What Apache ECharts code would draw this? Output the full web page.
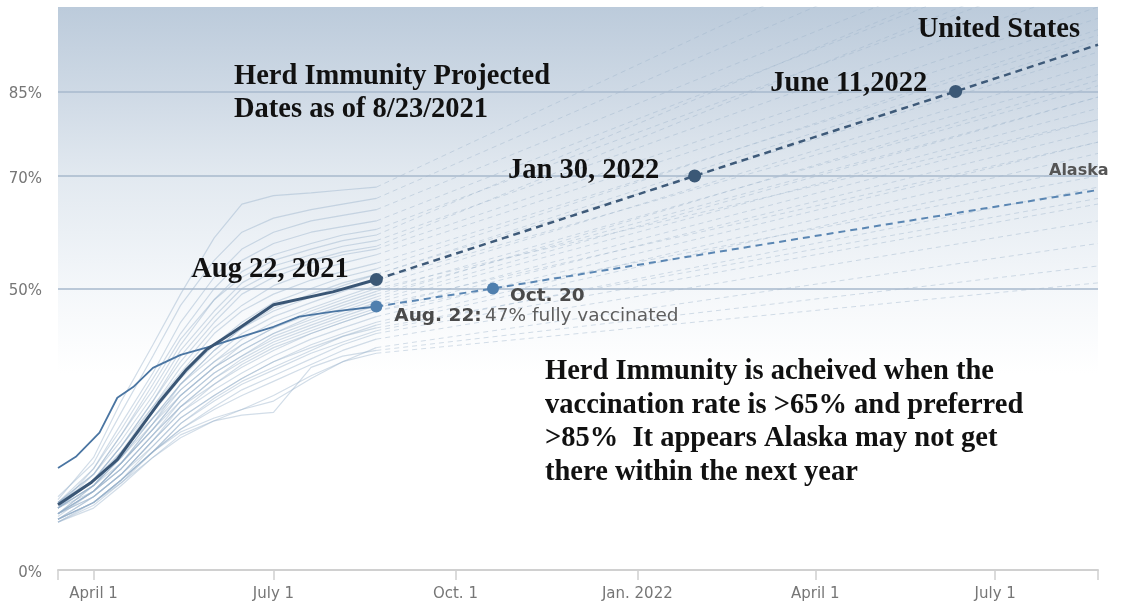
<!DOCTYPE html>
<html>
<head>
<meta charset="utf-8">
<script src="https://cdn.jsdelivr.net/npm/echarts@6/dist/echarts.min.js"></script>
<style>
html,body{margin:0;padding:0;background:#fff;}
#chart{width:1122px;height:602px;}
</style>
</head>
<body>
<div id="chart"></div>
<script>
// ---------- data ----------
const STATE_DATES = ['2021-03-14','2021-04-01','2021-04-15','2021-05-01','2021-05-15','2021-06-01','2021-06-15','2021-07-01','2021-07-20','2021-08-05','2021-08-22'];
const PROJ_END_DATE = '2022-08-22';
// each state: values at STATE_DATES (percent fully vaccinated)
const STATE_VALUES = [
  [12.5, 20, 30, 40, 49, 59, 65, 66.5, 67, 67.5, 68],
  [13, 19, 28, 38, 47, 55, 60, 62.5, 64, 65, 66],
  [11, 18, 26, 35, 44, 52, 57, 60, 62, 63, 64],
  [12, 18, 25, 34, 42, 50, 55, 58, 60, 61, 62],
  [11, 17, 24, 32, 40, 48, 53, 56, 58, 59.5, 60.5],
  [12, 17, 23, 31, 39, 46, 51, 54, 56, 57.5, 58.5],
  [11, 16, 22, 30, 37, 44, 49, 52, 54.5, 56, 57],
  [10, 15, 21, 29, 36, 43, 47, 50.5, 53, 54.5, 56],
  [12, 16, 22, 29, 35, 42, 46, 49, 51.5, 53, 54.5],
  [11, 15, 21, 28, 34, 40, 44, 47.5, 50, 52, 53.5],
  [10, 15, 20, 27, 33, 39, 43, 46, 48.5, 50.5, 52.5],
  [11, 15, 20, 27, 33, 38, 42, 45, 47.5, 49.5, 51.5],
  [12, 16, 21, 27, 32, 37, 41, 44, 46.5, 48.5, 50.5],
  [10, 14, 19, 26, 32, 37, 40, 43, 45.5, 47.5, 49.5],
  [11, 15, 20, 26, 31, 36, 39, 42, 45, 47, 49],
  [9.5, 14, 19, 25, 31, 36, 39, 42, 44.5, 46.5, 48.5],
  [10, 14, 18, 24, 30, 35, 38, 41, 43.5, 45.5, 47.5],
  [11, 14, 18, 24, 29, 34, 37, 40, 42.5, 44.5, 46.5],
  [10, 13, 17, 23, 28, 33, 36, 39, 42, 44, 46],
  [9, 13, 17, 23, 28, 32, 35, 38, 41, 43, 45],
  [10, 13, 17, 22, 27, 31, 34, 37, 40, 42, 44],
  [9, 12, 16, 22, 27, 31, 34, 37, 39.5, 41.5, 43.5],
  [9, 12, 16, 21, 26, 30, 33, 35.5, 38.5, 40.5, 42.5],
  [8.5, 12, 16, 21, 25, 29, 32, 34.5, 37.5, 40, 42],
  [9, 12, 16, 21, 25, 28.5, 31, 33.5, 36.5, 39, 41],
  [8.5, 11.5, 15.5, 21, 24.5, 27, 28.5, 30, 34, 37, 39.5],
  [8.5, 11, 15, 20, 24, 26.5, 27.5, 28, 36, 38, 39],
  [9, 12, 15.5, 20, 23.5, 26.5, 28.5, 31, 34.5, 37, 38.5],
  [11, 16, 22, 30, 38, 45, 50, 53, 55, 56.5, 57.5],
  [10, 14, 19, 26, 33, 39, 43, 46.5, 49, 51, 52.5],
  [10, 14, 19, 25, 31, 36, 40, 43, 46, 48, 50],
  [11, 15, 19, 25, 30, 35, 38, 41.5, 44, 46, 48],
  [9, 13, 17, 23, 29, 33, 36.5, 39.5, 42, 44, 46],
  [12, 17, 24, 33, 41, 48, 52, 55, 57, 58.5, 59.5],
  [10, 14, 18, 24, 29, 34, 37.5, 40.5, 43, 45, 47],
  [9, 12, 16, 21, 26, 30.5, 33.5, 36, 39, 41.5, 43]
];
// projected value on PROJ_END_DATE for each state (same order)
const STATE_PROJ = [128, 122, 116, 112, 108, 104, 100, 98, 95, 96, 92, 88, 90, 86, 84, 87, 82, 80, 78, 76, 74, 72, 68, 65, 62, 58, 54, 51, 110, 94, 80, 84, 70, 114, 76, 66];

const US_DATES = ['2021-03-14','2021-03-31','2021-04-13','2021-04-24','2021-05-04','2021-05-18','2021-05-28','2021-06-10','2021-07-01','2021-07-31','2021-08-22'];
const US_VALUES = [11.6, 15.6, 19.6, 24.9, 29.7, 35.6, 39.1, 42.1, 47.1, 49.4, 51.6];
const US_PROJ_DATES = ['2021-08-22','2022-01-30','2022-06-11','2022-08-22'];
const US_PROJ_VALUES = [51.6, 70, 85, 93.3];
const US_MARK_DATES = ['2021-08-22','2022-01-30','2022-06-11'];
const US_MARK_VALUES = [51.6, 70, 85];
const US_MARK_LABELS = ['Aug 22, 2021', 'Jan 30, 2022', 'June 11,2022'];

const AK_DATES = ['2021-03-14','2021-03-23','2021-04-04','2021-04-13','2021-04-21','2021-05-01','2021-05-15','2021-05-28','2021-06-10','2021-07-01','2021-07-14','2021-07-31','2021-08-22'];
const AK_VALUES = [18.1, 20.1, 24.4, 30.6, 32.5, 35.9, 38.2, 39.5, 40.9, 43.2, 45, 45.9, 46.8];
const AK_PROJ_DATES = ['2021-08-22','2021-10-20','2022-08-22'];
const AK_PROJ_VALUES = [46.8, 50, 67.5];
const AK_MARK_DATES = ['2021-08-22','2021-10-20'];
const AK_MARK_VALUES = [46.8, 50];
const AK_MARK_BOLD = ['Aug. 22:', 'Oct. 20'];
const AK_MARK_TEXT = ['47% fully vaccinated', ''];

const X_MIN = '2021-03-14';
const X_MAX = '2022-08-22';
const X_TICK_DATES = ['2021-04-01','2021-07-01','2021-10-01','2022-01-01','2022-04-01','2022-07-01'];
const X_TICK_LABELS = ['April 1','July 1','Oct. 1','Jan. 2022','April 1','July 1'];
const Y_TICKS = [0, 50, 70, 85];
const GRID_LINES = [50, 70, 85];

const TITLE_TEXT = 'Herd Immunity Projected\nDates as of 8/23/2021';
const NOTE_TEXT = 'Herd Immunity is acheived when the\nvaccination rate is >65% and preferred\n>85%  It appears Alaska may not get\nthere within the next year';
const US_NAME = 'United States';
const AK_NAME = 'Alaska';

// ---------- helpers ----------
const DAY = 86400000;
function t(s){ const p = s.split('-').map(Number); return Math.round(Date.UTC(p[0], p[1]-1, p[2]) / DAY); }
function pairs(dates, vals){ return dates.map((d,i)=>[t(d), vals[i]]); }

const labelMap = {};
X_TICK_DATES.forEach((d,i)=>{ labelMap[t(d)] = X_TICK_LABELS[i]; });

const SANS = '"DejaVu Sans", sans-serif';
const SERIF = '"Liberation Serif", "Times New Roman", serif';

const series = [];

// gridlines
series.push({
  type:'line', data:[[t(X_MIN), 0]], symbol:'none', lineStyle:{opacity:0}, silent:true, z:1,
  markLine:{
    silent:true, symbol:'none', animation:false,
    label:{show:false},
    lineStyle:{color:'#a7b9cd', width:1.5, type:'solid'},
    data: GRID_LINES.map(v=>({yAxis:v}))
  }
});

STATE_VALUES.forEach((vals, i)=>{
  series.push({
    type:'line', data: pairs(STATE_DATES, vals), symbol:'none', silent:true, z:2,
    lineStyle:{color:'#93adc8', width:1.2, opacity:0.42}
  });
  series.push({
    type:'line', data: [[t(STATE_DATES[STATE_DATES.length-1]), vals[vals.length-1]], [t(PROJ_END_DATE), STATE_PROJ[i]]],
    symbol:'none', silent:true, z:2,
    lineStyle:{color:'#9fb5cc', width:1, opacity:0.45, type:[5,4]}
  });
});

// Alaska
series.push({
  type:'line', data: pairs(AK_DATES, AK_VALUES), symbol:'none', silent:true, z:5,
  lineStyle:{color:'#4a75a2', width:1.8}
});
series.push({
  type:'line', data: pairs(AK_PROJ_DATES, AK_PROJ_VALUES), symbol:'none', silent:true, z:5,
  lineStyle:{color:'#5a86b3', width:2, type:[7,5]}
});
// United States
series.push({
  type:'line', data: pairs(US_DATES, US_VALUES), symbol:'none', silent:true, z:6,
  lineStyle:{color:'#3a5675', width:3}
});
series.push({
  type:'line', data: pairs(US_PROJ_DATES, US_PROJ_VALUES), symbol:'none', silent:true, z:6,
  lineStyle:{color:'#3e5a79', width:2.5, type:[7,5]}
});

// US dots with labels
const usLabelCfg = [
  {distance:21, offset:[0,-10]},
  {distance:29, offset:[0,-5]},
  {distance:22, offset:[0,-8]}
];
series.push({
  type:'scatter', z:8, silent:true, symbolSize:13,
  itemStyle:{color:'#3b5876', opacity:1},
  data: US_MARK_DATES.map((d,i)=>({
    value:[t(d), US_MARK_VALUES[i]],
    label:{
      show:true, position:'left', distance:usLabelCfg[i].distance, offset:usLabelCfg[i].offset,
      formatter: US_MARK_LABELS[i], opacity:1,
      fontFamily: SERIF, fontWeight:'bold', fontSize:28.5, color:'#111'
    }
  }))
});
// Alaska dots with labels
const akLabelCfg = [
  {distance:12, offset:[0,10]},
  {distance:11, offset:[0,8]}
];
series.push({
  type:'scatter', z:8, silent:true, symbolSize:12,
  itemStyle:{color:'#4f7fae', opacity:1},
  data: AK_MARK_DATES.map((d,i)=>({
    value:[t(d), AK_MARK_VALUES[i]],
    label:{
      show:true, position:'right', distance:akLabelCfg[i].distance, offset:akLabelCfg[i].offset, opacity:1,
      formatter: AK_MARK_TEXT[i] ? '{b|'+AK_MARK_BOLD[i]+'} {r|'+AK_MARK_TEXT[i]+'}' : '{b|'+AK_MARK_BOLD[i]+'}',
      rich:{
        b:{fontFamily:SANS, fontWeight:'bold', fontSize:18.5, color:'#4a4a4a'},
        r:{fontFamily:SANS, fontWeight:'normal', fontSize:18.5, color:'#5e5e5e'}
      }
    }
  }))
});

const chart = echarts.init(document.getElementById('chart'), null, {renderer:'canvas'});
chart.setOption({
  animation:false,
  backgroundColor:'#ffffff',
  grid:{
    left:58, right:24, top:7, bottom:32, containLabel:false,
    show:true, borderWidth:0,
    backgroundColor:{
      type:'linear', x:0, y:0, x2:0, y2:1,
      colorStops:[
        {offset:0, color:'#bccbdb'},
        {offset:0.15, color:'#ced9e5'},
        {offset:0.3, color:'#e2e9f0'},
        {offset:0.5, color:'#f4f7fa'},
        {offset:0.65, color:'#ffffff'},
        {offset:1, color:'#ffffff'}
      ]
    }
  },
  xAxis:{
    type:'value', min:t(X_MIN), max:t(X_MAX),
    splitLine:{show:false},
    axisLine:{show:true, lineStyle:{color:'#d0d0d0', width:2}},
    axisTick:{show:true, length:10, lineStyle:{color:'#d0d0d0', width:1.5},
      customValues:[t(X_MIN)].concat(X_TICK_DATES.map(t)).concat([t(X_MAX)])},
    axisLabel:{
      customValues: X_TICK_DATES.map(t),
      formatter:(v)=> labelMap[v] || '',
      fontFamily:SANS, fontSize:15, color:'#767676', margin:17
    }
  },
  yAxis:{
    type:'value', min:0, max:100,
    splitLine:{show:false},
    axisLine:{show:false}, axisTick:{show:false},
    axisLabel:{
      customValues: Y_TICKS,
      formatter:'{a|{value}%}',
      margin:16,
      rich:{a:{fontFamily:SANS, fontSize:15, color:'#767676', padding:[6,0,0,0]}}
    }
  },
  graphic:[
    {type:'text', left:234, top:60, z:20,
      style:{text:TITLE_TEXT, fontFamily:SERIF, fontWeight:'bold', fontSize:28.5, lineHeight:33, fill:'#111'}},
    {type:'text', left:545, top:355, z:20,
      style:{text:NOTE_TEXT, fontFamily:SERIF, fontWeight:'bold', fontSize:28.5, lineHeight:33.5, fill:'#111'}},
    {type:'text', right:42, top:15, z:20,
      style:{text:US_NAME, fontFamily:SERIF, fontWeight:'bold', fontSize:28.5, fill:'#111'}},
    {type:'text', left:1049, top:163, z:20,
      style:{text:AK_NAME, fontFamily:SANS, fontWeight:'bold', fontSize:16, fill:'#555'}}
  ],
  series: series
});
</script>
</body>
</html>
